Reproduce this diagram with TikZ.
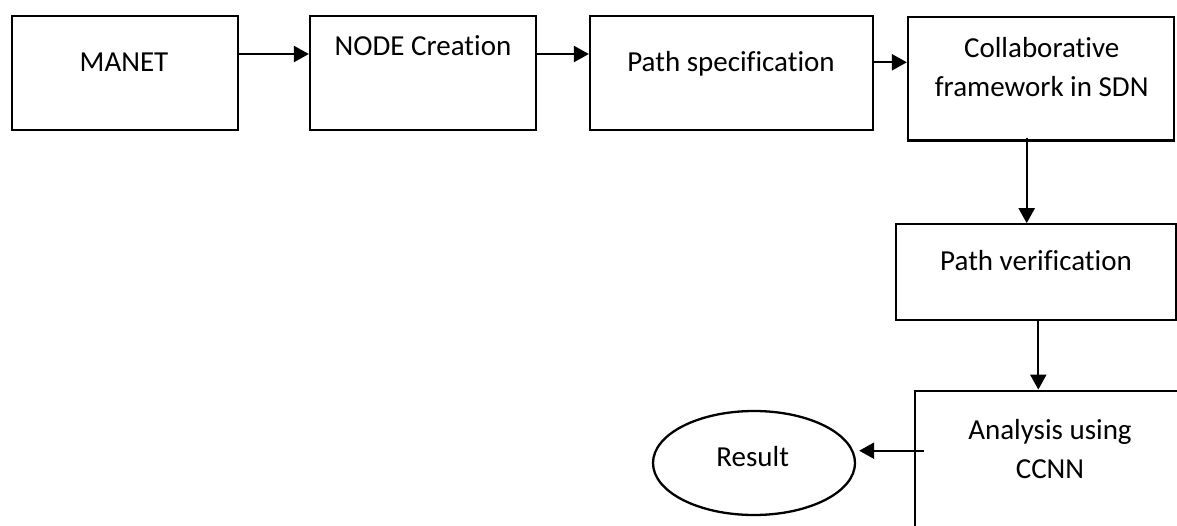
\documentclass[tikz,border=0pt]{standalone}
\usepackage{fontspec}
\setmainfont{Carlito}[Ligatures=NoCommon]
\usetikzlibrary{arrows.meta,shapes.geometric}
\begin{document}
\begin{tikzpicture}[x=1pt,y=-1pt,
  box/.style={draw,line width=2.3pt,rectangle,inner sep=0pt},
  txt/.style={inner sep=0pt,anchor=base,font=\fontsize{29}{39}\selectfont,align=center},
  arr/.style={line width=2.3pt,-{Triangle[length=15pt,width=16pt]}}]
\useasboundingbox (0,0) rectangle (1177,525);
\clip (0,0) rectangle (1177,525);
% boxes
\node[box,minimum width=226pt,minimum height=114pt] (manet) at (124.7,73) {};
\node[box,minimum width=225.7pt,minimum height=114pt] (nodec) at (422.85,73) {};
\node[box,minimum width=282.7pt,minimum height=114pt] (paths) at (731.35,73) {};
\node[box,minimum width=266pt,minimum height=123.5pt] (collab) at (1041,78.75) {};
\node[box,minimum width=280pt,minimum height=95.7pt] (pverif) at (1036,272.15) {};
\node[box,minimum width=270pt,minimum height=209.3pt] (analysis) at (1050,495.35) {};
\node[draw,line width=2.3pt,ellipse,minimum width=202pt,minimum height=104pt,inner sep=0pt] (result) at (754,463) {};
% texts
\node[txt] (manetT) at (124,71) {MANET};
\node[txt] (nodecT) at (423,55) {NODE Creation};
\node[txt] (pathsT) at (731,71.7) {Path specification};
\node[txt] (collabT) at (1041.7,96.7) {Collaborative\\framework in SDN};
\node[txt] (pverifT) at (1036,270) {Path verification};
\node[txt] (analysisT) at (1050,478.3) {Analysis using\\CCNN};
\node[txt] (resultT) at (752.7,466) {Result};
% connectors
\draw[arr] ([yshift=19pt]manet.east) -- ([yshift=19pt]nodec.west);
\draw[arr] ([yshift=19pt]nodec.east) -- ([yshift=19pt]paths.west);
\draw[arr] ([yshift=10.7pt]paths.east) -- ([yshift=10.7pt]paths.east -| collab.west);
\coordinate (c1) at ([xshift=-14.3pt,yshift=3.8pt]collab.south);
\draw[arr] (c1) -- (c1 |- pverif.north);
\coordinate (c2) at ([xshift=2.3pt]pverif.south);
\draw[arr] (c2) -- (c2 |- analysis.north);
\coordinate (c3) at ([xshift=10pt,yshift=44.65pt]analysis.west);
\draw[arr,shorten >=3pt] (c3) -- (c3 -| result.east);
\end{tikzpicture}
\end{document}
